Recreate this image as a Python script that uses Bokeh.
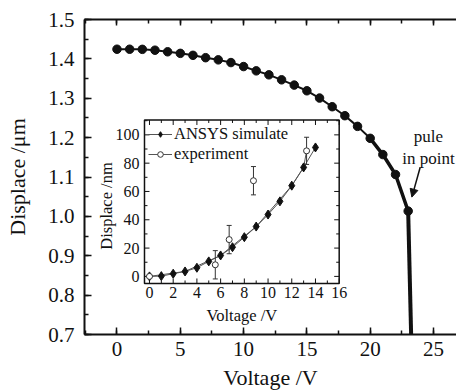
import numpy as np
from bokeh.plotting import figure
from bokeh.models import (Range1d, LinearAxis, SingleIntervalTicker, PrintfTickFormatter,
                          Legend, LegendItem, Arrow, NormalHead)
from bokeh.core.properties import value
from bokeh.embed import file_html
from bokeh.resources import INLINE

# ---------------- data ----------------
main_voltage = list(range(0, 24))
main_disp = [1.4245, 1.4245, 1.4242, 1.4220, 1.4180, 1.4140, 1.4090, 1.4030,
             1.3975, 1.3906, 1.3805, 1.3696, 1.3595, 1.3468, 1.3334, 1.3190,
             1.3005, 1.2785, 1.2557, 1.2286, 1.1982, 1.1570, 1.1063, 1.0134]
pullin_voltage = [23.0, 23.24]
pullin_disp = [1.0134, 0.69]

sim_voltage = list(range(0, 15))
sim_disp = [0.0, 0.2, 1.9, 3.5, 6.1, 10.6, 14.8, 20.6, 27.7, 35.2, 43.7, 53.0, 64.1, 77.0, 91.1]

exp_voltage = [0.0, 5.55, 6.72, 8.77, 13.25]
exp_disp = [0.0, 8.2, 26.0, 67.6, 88.7]
exp_err = [0.0, 10.0, 10.0, 10.0, 9.6]

fit_voltage = [0, 3, 6, 9, 12, 13, 13.25]
fit_disp = [0.0, 3.5, 14.8, 35.2, 64.1, 77.0, 88.7]

inset_xticks_major = [0, 2, 4, 6, 8, 10, 12, 14, 16]
inset_xticks_minor = [1, 3, 5, 7, 9, 11, 13, 15]
inset_yticks_major = [0, 20, 40, 60, 80, 100]
inset_yticks_minor = [10, 30, 50, 70, 90, 110]

FONT = "Liberation Serif"
INK = "#111111"

# ---------------- main figure ----------------
p = figure(width=456, height=392, x_range=Range1d(-2.567, 26.817), y_range=Range1d(0.7, 1.5),
           output_backend="svg", toolbar_location=None,
           min_border_left=84, min_border_right=0, min_border_top=19, min_border_bottom=58)
p.outline_line_color = None
p.xgrid.visible = False
p.ygrid.visible = False

def style_axis(ax, label_size="21px"):
    ax.axis_line_width = 2
    ax.axis_line_color = INK
    ax.major_tick_in = 7
    ax.major_tick_out = 0
    ax.minor_tick_in = 4
    ax.minor_tick_out = 0
    ax.major_tick_line_width = 1.5
    ax.minor_tick_line_width = 1.5
    ax.major_tick_line_color = INK
    ax.minor_tick_line_color = INK
    ax.major_label_text_font = FONT
    ax.major_label_text_font_size = label_size
    ax.major_label_text_color = INK
    ax.axis_label_text_font = FONT
    ax.axis_label_text_font_size = "22px"
    ax.axis_label_text_font_style = "normal"
    ax.axis_label_text_color = INK

xa = p.xaxis[0]
ya = p.yaxis[0]
xa.ticker = SingleIntervalTicker(interval=5, num_minor_ticks=2)
ya.ticker = SingleIntervalTicker(interval=0.1, num_minor_ticks=2)
ya.formatter = PrintfTickFormatter(format="%.1f")
style_axis(xa)
style_axis(ya)
xa.axis_label = "Voltage /V"
ya.axis_label = "Displace /μm"
xa.major_label_standoff = 7
xa.axis_label_standoff = 6
ya.major_label_standoff = 10
ya.axis_label_standoff = 15

top = LinearAxis(ticker=SingleIntervalTicker(interval=5, num_minor_ticks=2))
style_axis(top)
top.major_tick_in = 6
top.major_label_text_font_size = "1px"
top.major_label_text_color = None
top.major_label_standoff = 0
p.add_layout(top, "above")

# main curve
p.line(main_voltage, main_disp, line_width=2, line_color=INK)
p.line(main_voltage[20:], main_disp[20:], line_width=3.5, line_color=INK)
p.line(pullin_voltage, pullin_disp, line_width=4, line_color=INK)
p.scatter(main_voltage, main_disp, size=8.5, marker="circle", fill_color=INK, line_color=INK)

# annotation
p.text(x=[24.6], y=[1.1754], text=["pule\nin point"], text_align="center", text_baseline="middle",
       text_font=value(FONT), text_font_size="17px", text_color=INK, text_line_height=1.18)
p.add_layout(Arrow(end=NormalHead(size=8, fill_color=INK, line_color=INK, line_width=1),
                   x_start=23.95, y_start=1.1248, x_end=23.29, y_end=1.0489,
                   line_width=1.5, line_color=INK))

# ---------------- inset (sub-coordinates) ----------------
ix0, ix1, iy0, iy1 = -0.42, 16.0, -5.0, 110.5
inset = p.subplot(x_source=Range1d(ix0, ix1), y_source=Range1d(iy0, iy1),
                  x_target=Range1d(2.172, 17.551), y_target=Range1d(0.8296, 1.2448))

inset.quad(left=[ix0], right=[ix1], bottom=[iy0], top=[iy1],
           fill_color="white", line_color=INK, line_width=1.5)

def ticks(xs, ys, angle, length):
    inset.ray(x=xs, y=ys, length=length, length_units="screen", angle=angle,
              line_color=INK, line_width=1)

nxm, nxn = len(inset_xticks_major), len(inset_xticks_minor)
nym, nyn = len(inset_yticks_major), len(inset_yticks_minor)
ticks(inset_xticks_major, [iy0] * nxm, np.pi / 2, 5)
ticks(inset_xticks_minor, [iy0] * nxn, np.pi / 2, 3)
ticks(inset_xticks_major, [iy1] * nxm, -np.pi / 2, 5)
ticks(inset_xticks_minor, [iy1] * nxn, -np.pi / 2, 3)
ticks([ix0] * nym, inset_yticks_major, 0, 5)
ticks([ix0] * nyn, inset_yticks_minor, 0, 3)
ticks([ix1] * nym, inset_yticks_major, np.pi, 5)
ticks([ix1] * nyn, inset_yticks_minor, np.pi, 3)

inset.text(x=inset_xticks_major, y=[iy0] * nxm, text=[str(t) for t in inset_xticks_major],
           text_align="center", text_baseline="top", y_offset=4,
           text_font=value(FONT), text_font_size="16px", text_color=INK)
inset.text(x=[ix0] * nym, y=inset_yticks_major, text=[str(t) for t in inset_yticks_major],
           text_align="right", text_baseline="middle", x_offset=-5,
           text_font=value(FONT), text_font_size="16px", text_color=INK)
inset.text(x=[(ix0 + ix1) / 2], y=[iy0], text=["Voltage /V"], text_align="center",
           text_baseline="top", y_offset=23,
           text_font=value(FONT), text_font_size="16.5px", text_color=INK)
inset.text(x=[ix0], y=[(iy0 + iy1) / 2 - 3], text=["Displace /nm"], text_align="center",
           text_baseline="middle", angle=np.pi / 2, x_offset=-38,
           text_font=value(FONT), text_font_size="16.5px", text_color=INK)

sim_line = inset.line(sim_voltage, sim_disp, line_color="#555555", line_width=1)
fit_line = inset.line(fit_voltage, fit_disp, line_color="#555555", line_width=1)
sim_pts = inset.scatter(sim_voltage, sim_disp, marker="diamond", size=9,
                        fill_color=INK, line_color=INK)

lo = [d - e for d, e in zip(exp_disp, exp_err)]
hi = [d + e for d, e in zip(exp_disp, exp_err)]
inset.segment(x0=exp_voltage, y0=lo, x1=exp_voltage, y1=hi, line_color="#333333", line_width=1)
inset.scatter(exp_voltage, lo, marker="dash", size=5, line_color="#333333", line_width=1)
inset.scatter(exp_voltage, hi, marker="dash", size=5, line_color="#333333", line_width=1)
exp_pts = inset.scatter(exp_voltage, exp_disp, marker="circle", size=6,
                        fill_color="white", line_color="#333333", line_width=1)

legend = Legend(items=[LegendItem(label="ANSYS simulate", renderers=[sim_line, sim_pts]),
                       LegendItem(label="experiment", renderers=[fit_line, exp_pts])],
                location=(64, 170), margin=0, padding=0, spacing=0,
                glyph_width=24, glyph_height=14, label_height=14, label_standoff=2,
                label_text_font=FONT, label_text_font_size="16.5px", label_text_color=INK,
                border_line_color=None, background_fill_alpha=0)
p.add_layout(legend)

open("out.html", "w").write(file_html(p, INLINE))
